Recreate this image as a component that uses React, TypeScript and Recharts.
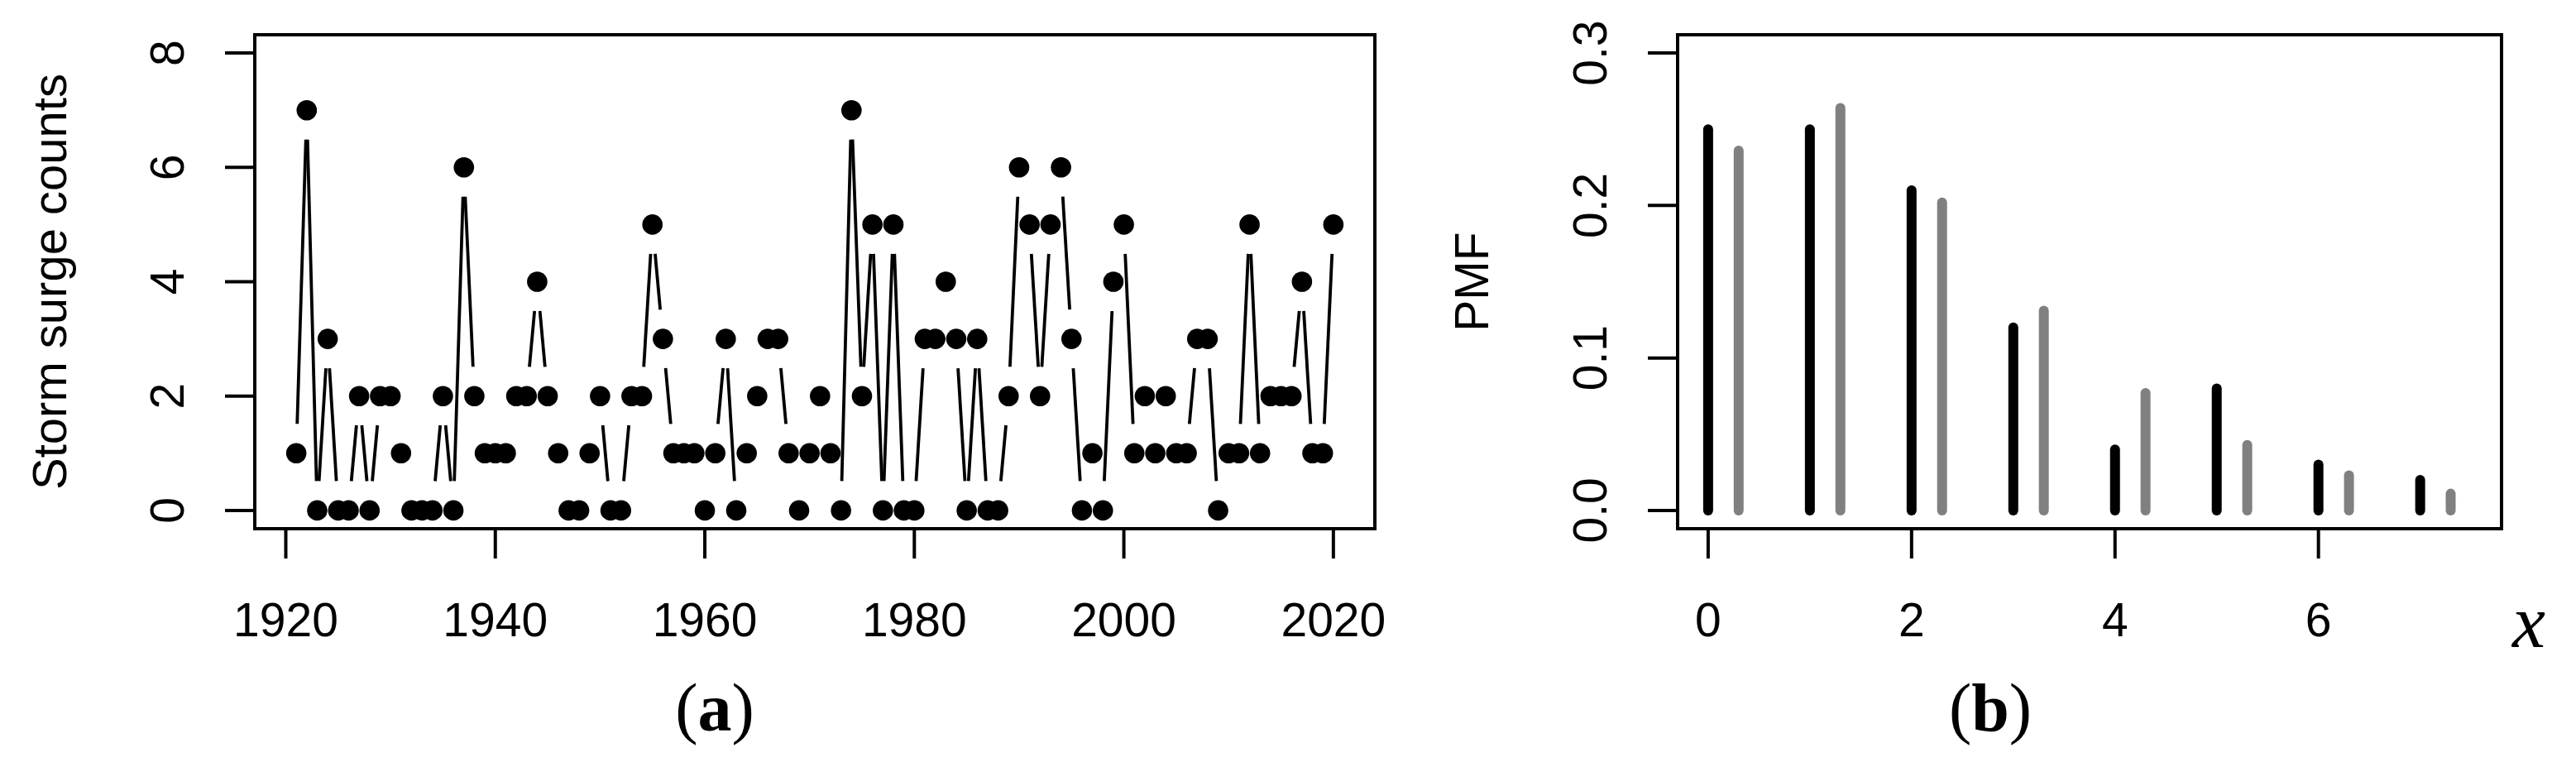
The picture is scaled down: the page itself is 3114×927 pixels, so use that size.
import React from 'react';
import { ComposedChart, Line, XAxis, YAxis, ReferenceArea } from 'recharts';

// (a) yearly storm surge counts, 1921-2020
const firstYear = 1921;
const stormCounts = [
  1, 7, 0, 3, 0, 0, 2, 0, 2, 2,
  1, 0, 0, 0, 2, 0, 6, 2, 1, 1,
  1, 2, 2, 4, 2, 1, 0, 0, 1, 2,
  0, 0, 2, 2, 5, 3, 1, 1, 1, 0,
  1, 3, 0, 1, 2, 3, 3, 1, 0, 1,
  2, 1, 0, 7, 2, 5, 0, 5, 0, 0,
  3, 3, 4, 3, 0, 3, 0, 0, 2, 6,
  5, 2, 5, 6, 3, 0, 1, 0, 4, 5,
  1, 2, 1, 2, 1, 1, 3, 3, 0, 1,
  1, 5, 1, 2, 2, 2, 4, 1, 1, 5,
];
const yearTicks = [1920, 1940, 1960, 1980, 2000, 2020];
const countTicks = [0, 2, 4, 6, 8];

// (b) empirical (black) vs fitted (grey) PMF
const pmfX = [0, 1, 2, 3, 4, 5, 6, 7];
const empiricalPmf = [0.25, 0.25, 0.21, 0.12, 0.04, 0.08, 0.03, 0.02];
const fittedPmf = [0.236, 0.264, 0.202, 0.131, 0.077, 0.043, 0.023, 0.011];
const fittedShift = 0.3;
const pmfXTicks = [0, 2, 4, 6];
const pmfYTicks = [0, 0.1, 0.2, 0.3];

const SANS = '"Liberation Sans", Arial, Helvetica, sans-serif';
const SERIF = '"Liberation Serif", "Times New Roman", serif';
const FS = 57;

const X_DOM_A: [number, number] = [1917.04, 2023.96];
const Y_DOM_A: [number, number] = [-0.32, 8.32];
const X_DOM_B: [number, number] = [-0.3, 7.8];
const Y_DOM_B: [number, number] = [-0.012, 0.312];

const GAP = 35.5; // R type="b" gap around points
const PLOT_W_A = 1354;
const PLOT_H_A = 597;

const seriesA = stormCounts.map((c, i) => ({ year: firstYear + i, count: c }));

const renderPoint = (props: any) => {
  const { cx, cy, index, points } = props;
  let nx: number | null = null;
  let ny: number | null = null;
  if (points && points[index + 1]) {
    nx = points[index + 1].x;
    ny = points[index + 1].y;
  } else if (index + 1 < stormCounts.length) {
    // fallback: same linear scale as the axes
    nx = cx + PLOT_W_A / (X_DOM_A[1] - X_DOM_A[0]);
    ny = cy - (stormCounts[index + 1] - stormCounts[index]) * PLOT_H_A / (Y_DOM_A[1] - Y_DOM_A[0]);
  }
  let seg = null;
  if (nx != null && ny != null) {
    const dx = nx - cx, dy = ny - cy;
    const len = Math.hypot(dx, dy);
    if (len > 2 * GAP + 1) {
      const ux = dx / len, uy = dy / len;
      seg = (
        <line x1={cx + ux * GAP} y1={cy + uy * GAP} x2={nx - ux * GAP} y2={ny - uy * GAP}
          stroke="#000" strokeWidth={3.8} />
      );
    }
  }
  return (
    <g key={`pt-${index}`}>
      {seg}
      <circle cx={cx} cy={cy} r={12.3} fill="#000" />
    </g>
  );
};

const xTick = (fmt: (v: number) => string) => (props: any) => (
  <text x={props.x} y={props.y} textAnchor="middle" fontFamily={SANS} fontSize={FS} fill="#000">
    {fmt(props.payload.value)}
  </text>
);

const yTick = (fmt: (v: number) => string) => (props: any) => {
  const { x, y, payload } = props;
  return (
    <text x={x} y={y} transform={`rotate(-90 ${x} ${y})`} textAnchor="middle"
      fontFamily={SANS} fontSize={FS} fill="#000">
      {fmt(payload.value)}
    </text>
  );
};

const tickLine = { stroke: '#000', strokeWidth: 4 };

export default function App() {
  return (
    <div style={{ position: 'relative', width: 3114, height: 927, background: '#fff' }}>
      <style>{`body{margin:0}`}</style>

      {/* ── (a) storm surge counts ── */}
      <div style={{ position: 'absolute', left: 0, top: 0 }}>
        <ComposedChart width={1700} height={927} data={seriesA}
          margin={{ top: 42, right: 38, bottom: 188, left: 208 }}>
          <XAxis dataKey="year" type="number" domain={X_DOM_A} allowDataOverflow ticks={yearTicks}
            interval={0} height={100} axisLine={false} tickLine={tickLine} tickSize={36} tickMargin={94}
            tick={xTick(v => `${v}`)} />
          <YAxis type="number" domain={Y_DOM_A} allowDataOverflow ticks={countTicks} interval={0}
            width={100} axisLine={false} tickLine={tickLine} tickSize={36} tickMargin={50}
            tick={yTick(v => `${v}`)} />
          <ReferenceArea x1={X_DOM_A[0]} x2={X_DOM_A[1]} y1={Y_DOM_A[0]} y2={Y_DOM_A[1]}
            fill="none" fillOpacity={0} stroke="#000" strokeWidth={4} ifOverflow="visible" />
          <Line dataKey="count" type="linear" stroke="none" dot={renderPoint} activeDot={false}
            isAnimationActive={false} />
        </ComposedChart>
      </div>

      {/* ── (b) PMF ── */}
      <div style={{ position: 'absolute', left: 1700, top: 0 }}>
        <ComposedChart width={1414} height={927}
          margin={{ top: 42, right: 90, bottom: 188, left: 228 }}>
          <XAxis dataKey="x" type="number" domain={X_DOM_B} allowDataOverflow ticks={pmfXTicks}
            interval={0} height={100} axisLine={false} tickLine={tickLine} tickSize={36} tickMargin={94}
            tick={xTick(v => `${v}`)} />
          <YAxis type="number" domain={Y_DOM_B} allowDataOverflow ticks={pmfYTicks} interval={0}
            width={100} axisLine={false} tickLine={tickLine} tickSize={36} tickMargin={50}
            tick={yTick(v => v.toFixed(1))} />
          <ReferenceArea x1={X_DOM_B[0]} x2={X_DOM_B[1]} y1={Y_DOM_B[0]} y2={Y_DOM_B[1]}
            fill="none" fillOpacity={0} stroke="#000" strokeWidth={4} ifOverflow="visible" />
          {pmfX.map((k, i) => (
            <Line key={`e${k}`} data={[{ x: k, y: 0 }, { x: k, y: empiricalPmf[i] }]} dataKey="y"
              type="linear" stroke="#000" strokeWidth={12} strokeLinecap="round" dot={false}
              activeDot={false} isAnimationActive={false} />
          ))}
          {pmfX.map((k, i) => (
            <Line key={`f${k}`} data={[{ x: k + fittedShift, y: 0 }, { x: k + fittedShift, y: fittedPmf[i] }]}
              dataKey="y" type="linear" stroke="#808080" strokeWidth={12} strokeLinecap="round" dot={false}
              activeDot={false} isAnimationActive={false} />
          ))}
        </ComposedChart>
      </div>

      {/* titles and captions */}
      <svg width={3114} height={927} style={{ position: 'absolute', left: 0, top: 0, pointerEvents: 'none' }}>
        <text x={80} y={340.5} transform="rotate(-90 80 340.5)" textAnchor="middle"
          fontFamily={SANS} fontSize={58} fill="#000">Storm surge counts</text>
        <text x={1799} y={340.5} transform="rotate(-90 1799 340.5)" textAnchor="middle"
          fontFamily={SANS} fontSize={FS} fill="#000">PMF</text>
        <text x={864} y={883} textAnchor="middle" fontFamily={SERIF} fontSize={82} fill="#000">
          (<tspan fontWeight="bold">a</tspan>)
        </text>
        <text x={2406} y={883} textAnchor="middle" fontFamily={SERIF} fontSize={82} fill="#000">
          (<tspan fontWeight="bold">b</tspan>)
        </text>
        <text x={3057} y={782} textAnchor="middle" fontFamily={SERIF} fontStyle="italic" fontSize={90} fill="#000">x</text>
      </svg>
    </div>
  );
}
